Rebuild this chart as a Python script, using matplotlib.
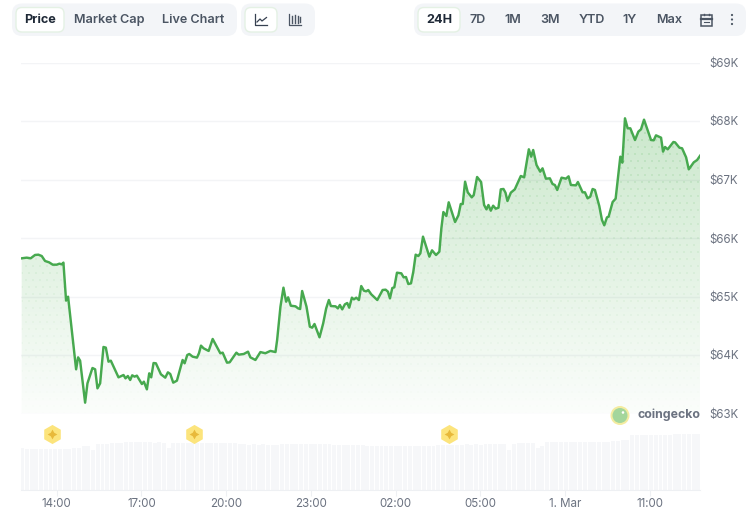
import matplotlib
matplotlib.use('Agg')
import matplotlib.pyplot as plt
import numpy as np
from matplotlib.patches import FancyBboxPatch, Circle, Rectangle, Polygon

plt.rcParams['font.family'] = ['Inter', 'DejaVu Sans']

# price series: hours since midnight of the first day, price in $K
hours = [12.764, 12.942, 13.083, 13.237, 13.355, 13.474, 13.592, 13.734, 13.864, 14.005, 14.10, 14.183, 14.242,
         14.336, 14.407, 14.691, 14.762, 14.833, 15.01, 15.093, 15.27, 15.365, 15.447, 15.542, 15.66, 15.743,
         15.838, 15.92, 16.192, 16.37, 16.44, 16.523, 16.606, 16.677, 16.76, 16.842, 17.02, 17.09, 17.197, 17.28,
         17.35, 17.433, 17.516, 17.694, 17.847, 17.942, 18.025, 18.13, 18.26, 18.462, 18.533, 18.627, 18.698,
         18.816, 18.97, 19.04, 19.112, 19.206, 19.384, 19.526, 19.797, 19.88, 20.034, 20.128, 20.365, 20.448,
         20.625, 20.778, 20.861, 21.04, 21.216, 21.39, 21.57, 21.75, 21.808, 21.926, 22.032, 22.127, 22.198,
         22.292, 22.458, 22.552, 22.623, 22.694, 22.848, 22.966, 23.049, 23.131, 23.309, 23.439, 23.545, 23.64,
         23.711, 23.876, 23.959, 24.03, 24.113, 24.207, 24.29, 24.361, 24.455, 24.526, 24.609, 24.704, 24.786,
         24.881, 24.964, 25.034, 25.141, 25.354, 25.543, 25.649, 25.732, 25.803, 25.886, 25.957, 26.051, 26.205,
         26.288, 26.37, 26.453, 26.548, 26.63, 26.713, 26.808, 26.879, 26.973, 27.068, 27.198, 27.292, 27.434,
         27.552, 27.623, 27.694, 27.8, 27.883, 28.108, 28.226, 28.309, 28.38, 28.463, 28.557, 28.699, 28.77,
         28.888, 29.03, 29.136, 29.219, 29.29, 29.373, 29.456, 29.55, 29.645, 29.727, 29.822, 29.893, 29.963,
         30.082, 30.223, 30.436, 30.554, 30.72, 30.803, 30.874, 30.992, 31.122, 31.205, 31.323, 31.465, 31.559,
         31.642, 31.725, 31.878, 32.032, 32.127, 32.209, 32.387, 32.457, 32.623, 32.706, 32.8, 32.895, 32.978,
         33.06, 33.214, 33.309, 33.391, 33.486, 33.545, 33.687, 33.793, 33.959, 34.03, 34.124, 34.219, 34.313,
         34.479, 34.597, 34.691, 34.798, 35.046, 35.141, 35.223, 35.401, 35.472, 35.543, 35.637, 35.838, 35.897,
         36.051, 36.146, 36.288, 36.382, 36.56, 36.678, 36.784]
price_k = [65.653, 65.664, 65.653, 65.710, 65.715, 65.692, 65.607, 65.584, 65.544, 65.544, 65.561, 65.550, 65.579,
           64.929, 64.997, 63.755, 63.960, 63.903, 63.185, 63.516, 63.778, 63.755, 63.430, 63.516, 64.137, 64.126,
           63.886, 63.903, 63.618, 63.658, 63.601, 63.641, 63.573, 63.653, 63.630, 63.647, 63.504, 63.544, 63.413,
           63.687, 63.618, 63.863, 63.858, 63.670, 63.613, 63.704, 63.675, 63.527, 63.561, 63.915, 63.858, 64.0,
           64.017, 63.972, 63.955, 64.029, 64.160, 64.114, 64.069, 64.274, 64.029, 64.04, 63.869, 63.875, 64.04,
           64.006, 64.017, 64.057, 63.96, 63.915, 64.05, 64.03, 64.07, 64.05, 64.256, 64.826, 65.151, 64.911, 64.986,
           64.843, 64.832, 64.797, 64.786, 65.094, 64.826, 64.484, 64.467, 64.530, 64.302, 64.541, 64.797, 64.940,
           64.837, 64.832, 64.797, 64.855, 64.780, 64.866, 64.889, 64.809, 64.980, 64.951, 64.980, 64.940, 65.179,
           65.099, 65.088, 65.111, 65.037, 64.940, 65.111, 65.117, 65.082, 64.968, 65.145, 65.157, 65.407, 65.396,
           65.327, 65.333, 65.213, 65.225, 65.424, 65.715, 65.692, 65.738, 66.023, 65.880, 65.681, 65.789, 65.709,
           65.766, 66.165, 66.444, 66.376, 66.610, 66.273, 66.387, 66.581, 66.581, 66.963, 66.780, 66.695, 66.735,
           67.043, 66.957, 66.564, 66.490, 66.564, 66.467, 66.552, 66.501, 66.518, 66.832, 66.838, 66.775, 66.632,
           66.775, 66.832, 67.060, 67.037, 67.516, 67.390, 67.504, 67.248, 67.134, 67.191, 67.014, 67.020, 66.923,
           66.906, 66.821, 67.031, 67.014, 67.054, 66.906, 66.900, 66.957, 66.781, 66.781, 66.678, 66.707, 66.838,
           66.821, 66.547, 66.308, 66.217, 66.353, 66.365, 66.615, 66.672, 67.390, 67.288, 68.046, 67.875, 67.875,
           67.675, 67.818, 67.858, 68.023, 67.675, 67.670, 67.755, 67.715, 67.476, 67.556, 67.516, 67.641, 67.635,
           67.544, 67.533, 67.379, 67.174, 67.294, 67.333, 67.407]

# volume strip, arbitrary units, one bar every 10 minutes
volume = [41.7, 41.5, 40.8, 40.6, 40.8, 41.0, 41.0, 41.0, 41.0, 41.0, 40.8, 41.6, 41.8, 44.0, 44.2, 40.0,
          46.0, 46.0, 46.5, 47.0, 47.2, 47.5, 47.6, 47.8, 47.8, 47.8, 47.7, 47.8, 47.5, 47.6, 47.0, 41.8,
          47.0, 47.2, 47.2, 47.3, 47.2, 47.0, 47.0, 46.8, 47.0, 47.2, 47.3, 47.2, 47.0, 46.6,
          45.8, 45.8, 45.5, 45.6, 45.5, 45.6, 45.4, 45.2, 45.4, 46.0, 46.2, 46.2, 46.2, 46.0, 46.0,
          45.8, 45.6, 46.0, 45.8, 45.6, 45.2, 45.0, 45.2, 44.8, 44.6, 44.8, 44.6, 44.2, 44.2,
          44.0, 44.0, 43.9, 44.0, 44.2, 44.0, 44.0, 43.9, 44.0, 44.2, 44.2, 44.4, 44.3, 44.6, 45.0, 45.0,
          45.2, 45.5, 45.5, 45.6, 45.4, 45.6, 45.5, 45.6, 45.6, 45.8, 46.0, 46.0, 40.5, 46.5, 47.0, 47.0,
          47.2, 47.2, 42.0, 44.0, 48.0, 48.0, 48.1, 48.0, 48.2, 48.0, 48.1, 48.2, 48.0, 48.3, 48.4, 48.2,
          48.4, 48.5, 48.6, 49.0, 50.0, 50.0, 55.0, 55.2, 55.3, 55.2, 55.4, 55.3, 55.5, 55.4, 55.5, 55.6,
          55.6, 55.7, 55.7, 55.7, 55.7]
vol_hours = np.linspace(12.78, 36.72, len(volume))

event_hours = [13.84, 18.87, 27.91]

price_ticks = [63, 64, 65, 66, 67, 68, 69]
time_ticks = [14, 17, 20, 23, 26, 29, 32, 35]
time_labels = ['14:00', '17:00', '20:00', '23:00', '02:00', '05:00', '1. Mar', '11:00']

tabs_left = [('Market Cap', 109), ('Live Chart', 193)]
tabs_range = [('7D', 478), ('1M', 513), ('3M', 550), ('YTD', 592), ('1Y', 630), ('Max', 669)]

W, H = 750, 515
GREEN = '#47a94f'
GRID = '#f3f4f6'
LABEL = '#6b7280'
TIME_LIM = (12.74, 36.78)


def px_axes(left, top, right, bottom):
    return [left / W, 1 - bottom / H, (right - left) / W, (bottom - top) / H]


fig = plt.figure(figsize=(7.5, 5.15), dpi=100)

# ===== price chart =====
ax = fig.add_axes(px_axes(21, 62.5, 700, 413.5))
ax.set_xlim(*TIME_LIM)
ax.set_ylim(63, 69)
for s in ax.spines.values():
    s.set_visible(False)
ax.grid(True, axis='y', color=GRID, linewidth=1)
ax.set_axisbelow(True)
ax.set_xticks([])
ax.yaxis.tick_right()
ax.set_yticks(price_ticks)
ax.set_yticklabels([f'${p}K' for p in price_ticks], fontsize=8.3, color=LABEL)
ax.tick_params(axis='y', length=0, pad=6.5)

# gradient + dot texture under the line
rows, cols = 351, 679
yy, xx = np.mgrid[0:rows, 0:cols]
alpha = np.clip(0.30 - 0.28 * (yy - 48) / 303, 0.015, 0.30)
dots = ((yy % 7 < 2) & ((xx + 3 * (yy // 7 % 2)) % 7 < 2))
alpha = alpha * np.where(dots, 1.4, 1.0)
rgba = np.zeros((rows, cols, 4))
rgba[..., 0] = 76 / 255
rgba[..., 1] = 175 / 255
rgba[..., 2] = 80 / 255
rgba[..., 3] = alpha
img = ax.imshow(rgba, extent=[*TIME_LIM, 63, 69], aspect='auto', interpolation='nearest', zorder=1)
area = Polygon(list(zip(hours, price_k)) + [(hours[-1], 63), (hours[0], 63)], closed=True,
               transform=ax.transData, facecolor='none', edgecolor='none')
ax.add_patch(area)
img.set_clip_path(area)
ax.set_xlim(*TIME_LIM)
ax.set_ylim(63, 69)
ax.plot(hours, price_k, color=GREEN, linewidth=1.75, solid_joinstyle='round', zorder=3)

# ===== volume strip =====
ax_v = fig.add_axes(px_axes(21, 420, 700, 490))
ax_v.patch.set_alpha(0)
ax_v.set_xlim(*TIME_LIM)
ax_v.set_ylim(0, 70)
for name, s in ax_v.spines.items():
    s.set_visible(name == 'bottom')
ax_v.spines['bottom'].set_color('#eef0f3')
ax_v.bar(vol_hours, volume, width=0.14, color='#f6f7f9', linewidth=0)
ax_v.set_yticks([])
ax_v.set_xticks(time_ticks)
ax_v.set_xticklabels(time_labels, fontsize=8.3, color=LABEL)
ax_v.tick_params(axis='x', length=4, width=0.8, color='#eef0f3', pad=2)

# yellow event pins
ev_y = [56] * len(event_hours)
ax_v.scatter(event_hours, ev_y, marker='h', s=190, color='#fce47c', linewidth=0, zorder=4)
ax_v.scatter(event_hours, ev_y, marker=(4, 1, 0), s=50, color='#e8b93a', linewidth=0, zorder=5)

# ===== toolbar, drawn in pixel coordinates =====
ui = fig.add_axes([0, 0, 1, 1], zorder=10)
ui.set_xlim(0, W)
ui.set_ylim(H, 0)
ui.axis('off')


def pill(x0, y0, x1, y1, r, fc, ec='none', lw=0):
    ui.add_patch(FancyBboxPatch((x0 + r, y0 + r), x1 - x0 - 2 * r, y1 - y0 - 2 * r,
                                boxstyle=f'round,pad={r},rounding_size={r}', fc=fc, ec=ec, lw=lw))


pill(12, 3.5, 237, 36, 10, '#f3f5f8')
pill(241, 3.5, 315, 36, 10, '#f3f5f8')
pill(414, 3.5, 746, 36, 10, '#f3f5f8')
pill(16, 7.5, 64, 32, 6, 'white', '#e4f1e4', 1)
pill(245, 7.5, 277, 32, 6, 'white', '#e4f1e4', 1)
pill(418, 7.5, 460, 32, 6, 'white', '#e4f1e4', 1)

ui.text(40, 19.8, 'Price', ha='center', va='center', fontsize=9.1, fontweight='bold', color='#1f2937')
ui.text(439.5, 19.8, '24H', ha='center', va='center', fontsize=9.1, fontweight='bold', color='#1f2937')
for label, x in tabs_left + tabs_range:
    ui.text(x, 19.8, label, ha='center', va='center', fontsize=9.1, fontweight='semibold', color='#4b5563')

# line chart icon
ui.plot([255, 255, 267], [14, 25, 25], color='#374151', lw=0.9)
ui.plot([257, 260, 262, 266.5], [22, 19, 21, 17.5], color='#374151', lw=0.9)
# candle icon
ui.plot([289, 289, 301], [14, 25, 25], color='#4b5563', lw=0.9)
for x, y0, y1 in [(291.5, 16, 23), (294.5, 14.5, 23), (297.5, 16, 23), (300, 17, 22)]:
    ui.plot([x, x], [y0, y1], color='#4b5563', lw=1.0)
# calendar icon
ui.add_patch(Rectangle((701, 15), 10.5, 10.5, fc='none', ec='#4b5563', lw=1.1))
ui.plot([701, 711.5], [18.5, 18.5], color='#4b5563', lw=1.6)
ui.plot([703.5, 703.5], [13.5, 15], color='#4b5563', lw=1)
ui.plot([709, 709], [13.5, 15], color='#4b5563', lw=1)
ui.plot([703.5, 709], [21.5, 21.5], color='#4b5563', lw=0.8)
# menu dots
for y in [15, 19.5, 24]:
    ui.add_patch(Circle((732, y), 1.1, fc='#4b5563', ec='none'))

# coingecko mark
ui.add_patch(Circle((620, 415.5), 9.5, fc='#f4ecA0', ec='none'))
ui.add_patch(Circle((620, 415.5), 7.5, fc='#a4d69c', ec='none'))
ui.add_patch(Circle((623, 412.5), 1.3, fc='white', ec='none'))
ui.text(637, 415, 'coingecko', ha='left', va='center', fontsize=8.9, fontweight='bold', color='#6b7280')

plt.savefig('out.png', dpi=100)
